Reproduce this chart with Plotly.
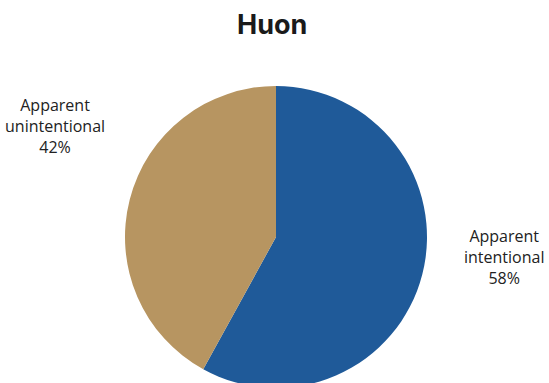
import plotly.graph_objects as go

# Share of incidents by apparent intent
title = "Huon"
categories = ["Apparent intentional", "Apparent unintentional"]
label_lines = [["Apparent", "intentional"], ["Apparent", "unintentional"]]
values = [58, 42]
colors = ["#1F5A99", "#B79561"]

W, H = 549, 393

fig = go.Figure(
    go.Pie(
        labels=categories,
        values=values,
        sort=False,
        direction="clockwise",
        rotation=0,
        textinfo="none",
        hoverinfo="label+percent",
        marker=dict(colors=colors, line=dict(width=0)),
        showlegend=False,
        domain=dict(x=[125 / W, 427 / W], y=[(H - 388) / H, (H - 86) / H]),
    )
)

# slice labels placed beside the pie, percentages derived from the values
total = sum(values)
label_pos = [(504, 257), (55, 126)]
annotations = []
for lines, v, (px, py) in zip(label_lines, values, label_pos):
    pct = round(100 * v / total)
    annotations.append(
        dict(
            text="<br>".join(lines + [f"{pct}%"]),
            x=px / W,
            y=1 - py / H,
            xref="paper",
            yref="paper",
            xanchor="center",
            yanchor="middle",
            showarrow=False,
            align="center",
            font=dict(family="Open Sans", size=16, color="#222222"),
        )
    )

annotations.append(
    dict(
        text=f"<b>{title}</b>",
        x=271.5 / W,
        y=1 - 25 / H,
        xref="paper",
        yref="paper",
        xanchor="center",
        yanchor="middle",
        showarrow=False,
        font=dict(family="Inter", size=27, color="#1a1a1a", weight=800),
    )
)

fig.update_layout(
    width=W,
    height=H,
    margin=dict(l=0, r=0, t=0, b=0),
    paper_bgcolor="white",
    plot_bgcolor="white",
    annotations=annotations,
)

fig.write_html(
    "out.html",
    config={"displayModeBar": False},
    post_script="document.documentElement.style.overflow='hidden';document.body.style.overflow='hidden';",
)
